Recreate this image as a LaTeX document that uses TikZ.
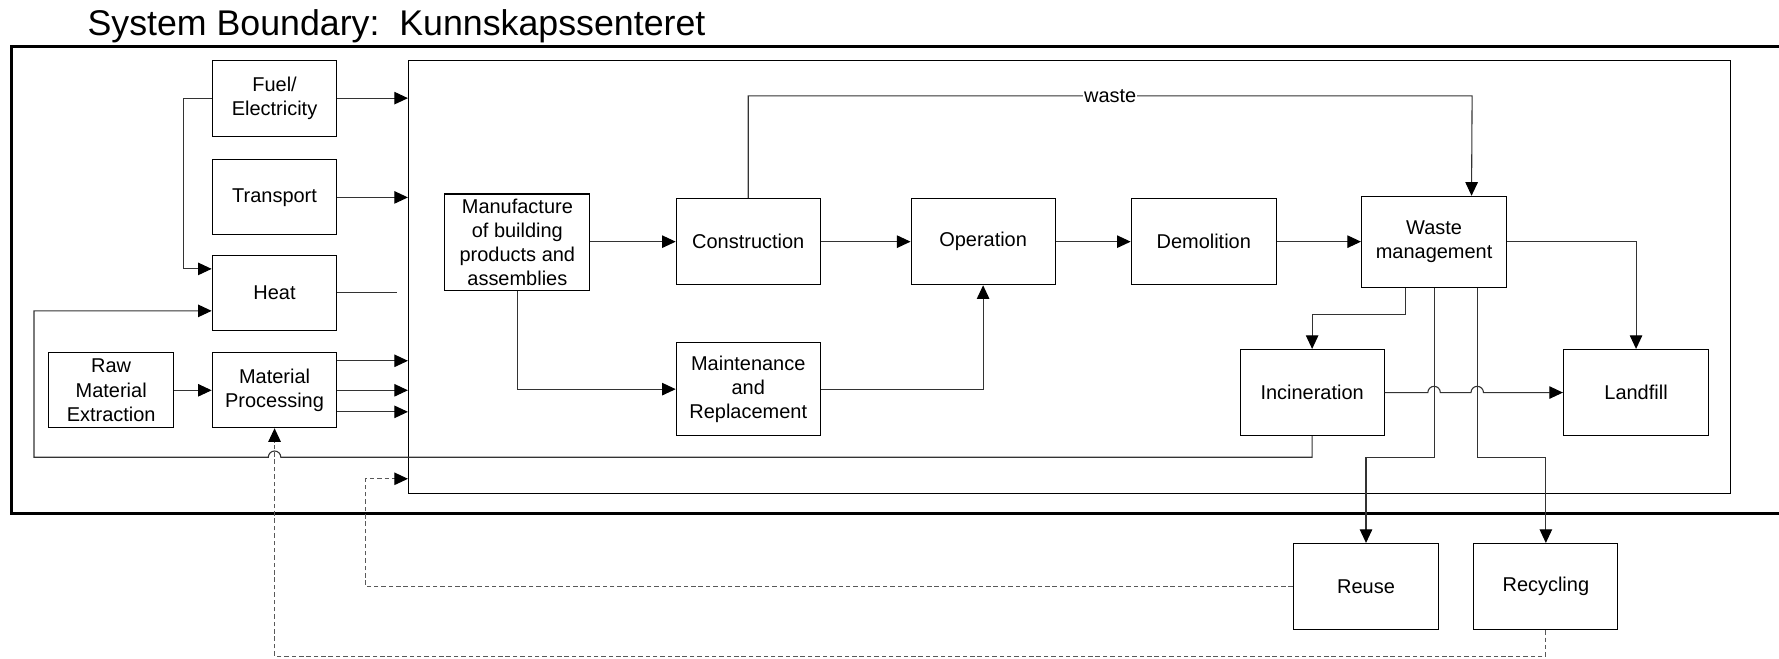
\documentclass[tikz,border=0pt]{standalone}
\usepackage{fontspec}
\setmainfont{Liberation Sans}
\usetikzlibrary{arrows.meta,calc}
\begin{document}
\begin{tikzpicture}[x=1pt,y=-1pt,
  box/.style={draw=black,line width=0.9pt,align=center,inner sep=0pt,font=\fontsize{17.6}{21.3}\selectfont},
  sz/.style 2 args={minimum width=#1pt,minimum height=#2pt},
  ln/.style={draw=black!80,line width=0.95pt},
  tip/.style={-{Triangle[length=12pt,width=11pt,color=black]}},
  arr/.style={ln,tip},
  dsh/.style={draw=black!65,line width=0.9pt,dash pattern=on 4pt off 2.5pt},
  lbl/.style={fill=white,inner sep=1pt,font=\fontsize{17.6}{21.3}\selectfont}]
\useasboundingbox (0,0) rectangle (1568,580);

% title
\node[anchor=base west,inner sep=0pt,font=\fontsize{31.5}{36}\selectfont] (title) at (77,31) {System Boundary:\ \ Kunnskapssenteret};

% system boundary
\draw[line width=2.6pt] (1700,41) -- (10,41) -- (10,453) -- (1700,453);

% big inner box
\node[draw=black,line width=0.9pt,sz={1165}{382},inner sep=0pt] (big) at (942.5,244) {};

% left column
\node[box,sz={110}{67}] (fuel) at (242,86.5) {Fuel/\\Electricity};
\node[box,sz={110}{66}] (trans) at (242,174) {Transport};
\node[box,sz={110}{66}] (heat) at (242,258) {Heat};
\node[box,sz={110}{66}] (raw) at (98,344) {Raw\\Material\\Extraction};
\node[box,sz={110}{66}] (mat) at (242,344) {Material\\Processing};

% inner process
\node[box,sz={128}{85}] (manu) at (456,213.5) {Manufacture\\of building\\products and\\assemblies};
\node[box,sz={127}{76}] (cons) at (659.5,213) {Construction};
\node[box,sz={127}{76}] (oper) at (866.5,213) {Operation};
\node[box,sz={128}{76}] (demo) at (1061,213) {Demolition};
\node[box,sz={128}{80}] (wm) at (1264,213) {Waste\\management};
\node[box,sz={127}{82}] (maint) at (659.5,343) {Maintenance\\and\\Replacement};
\node[box,sz={127}{76}] (inc) at (1156.5,346) {Incineration};
\node[box,sz={128}{76}] (land) at (1442,346) {Landfill};
\node[box,sz={128}{76}] (reuse) at (1204,517) {Reuse};
\node[box,sz={127}{76}] (recyc) at (1362.5,517) {Recycling};

% inputs into the big box
\draw[arr] (fuel.east) -- (fuel.east -| big.west);
\draw[arr] (trans.east) -- (trans.east -| big.west);
\coordinate (heatend) at (350,258);
\draw[ln] (heat.east) -- (heatend);
\draw[arr] (raw.east) -- (mat.west);
\coordinate (m1) at (297,318);
\coordinate (m2) at (297,344);
\coordinate (m3) at (297,363);
\draw[arr] (m1) -- (m1 -| big.west);
\draw[arr] (m2) -- (m2 -| big.west);
\draw[arr] (m3) -- (m3 -| big.west);
\draw[arr] (fuel.west) -- ++(-25,0) |- ([yshift=21pt]heat.west);

% loop from incineration back to heat (with jump)
\draw[arr] (inc.south) -- (1156.5,403) -- (247.5,403)
  arc[start angle=0,end angle=180,radius=5.5pt] -- (30,403) |- ([yshift=-16pt]heat.west);

% main chain
\draw[arr] (manu.east |- cons.west) -- (cons.west);
\draw[arr] (cons.east) -- (oper.west);
\draw[arr] (oper.east) -- (demo.west);
\draw[arr] (demo.east) -- (wm.west);
\draw[arr] (cons.north) -- ++(0,-90) -- node[lbl] (wastelbl) {waste} ++(638,0) -- ([xshift=33pt]wm.north);
\draw[arr] (manu.south) |- (maint.west);
\draw[arr] (maint.east) -| (oper.south);
\draw[arr] (wm.east) -| (land.north);
\draw[arr] ([xshift=-25pt]wm.south) -- ++(0,24) -| (inc.north);
\draw[arr] (inc.east) -- (1258.5,346) arc[start angle=180,end angle=0,radius=5.5pt]
  -- (1296.5,346) arc[start angle=180,end angle=0,radius=5.5pt] -- (land.west);
\draw[arr] (wm.south) -- ++(0,150) -| (reuse.north);
\draw[arr] ([xshift=38pt]wm.south) -- ++(0,150) -| (recyc.north);

% dashed returns
\draw[dsh,tip] (reuse.west) -- (322,517) |- ([yshift=-178pt]big.west);
\draw[dsh,tip] (recyc.south) -- ++(0,23) -| (mat.south);
\end{tikzpicture}
\end{document}
